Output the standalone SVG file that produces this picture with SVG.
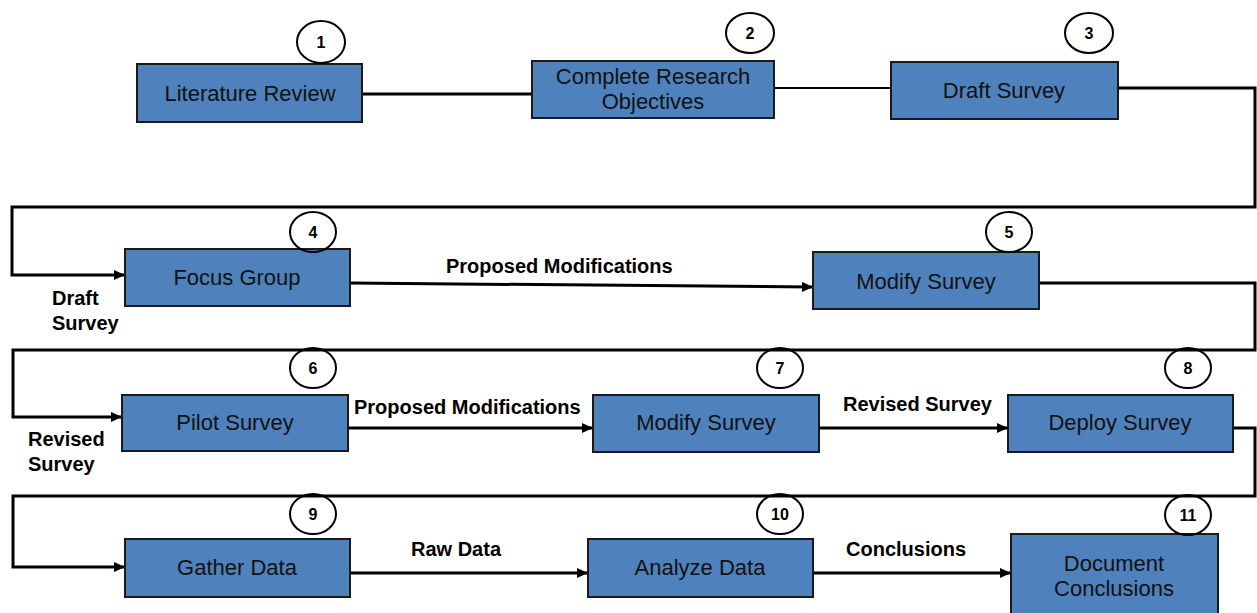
<svg xmlns="http://www.w3.org/2000/svg" width="1257" height="613" viewBox="0 0 1257 613">
<style>
.box{fill:#4F81BD;stroke:#1a1a1a;stroke-width:2}
.bt{font-family:"Liberation Sans",Arial,sans-serif;font-size:22px;fill:#111;text-anchor:middle}
.num{fill:none;stroke:#000;stroke-width:2}
.nt{font-family:"Liberation Sans",Arial,sans-serif;font-size:16px;font-weight:bold;fill:#000;text-anchor:middle}
.ln{fill:none;stroke:#000;stroke-width:3}
.lb{font-family:"Liberation Sans",Arial,sans-serif;font-size:20px;font-weight:bold;fill:#000}
</style>
<defs>
<marker id="ah" markerUnits="userSpaceOnUse" markerWidth="11" markerHeight="10" refX="10" refY="5" orient="auto">
<path d="M0,0 L11,5 L0,10 z" fill="#000"/>
</marker>
</defs>
<rect width="1257" height="613" fill="#fff"/>
<g id="connectors">
<path class="ln" d="M362,94 H532"/>
<path class="ln" d="M774,88 H891" style="stroke-width:2"/>
<path class="ln" d="M1118,88 H1255 V207 H12 V275 H124" marker-end="url(#ah)"/>
<path class="ln" d="M350,283 L812,287" marker-end="url(#ah)"/>
<path class="ln" d="M1039,283 H1255 V350 H13 V417 H121" marker-end="url(#ah)"/>
<path class="ln" d="M348,428 H592" marker-end="url(#ah)"/>
<path class="ln" d="M819,428 H1007" marker-end="url(#ah)"/>
<path class="ln" d="M1233,428 H1255 V496 H13 V567 H124" marker-end="url(#ah)"/>
<path class="ln" d="M350,573 H587" marker-end="url(#ah)"/>
<path class="ln" d="M813,573 H1010" marker-end="url(#ah)"/>
<text class="lb" x="52" y="305">Draft</text>
<text class="lb" x="52" y="330">Survey</text>
<text class="lb" x="446" y="273">Proposed Modifications</text>
<text class="lb" x="28" y="446">Revised</text>
<text class="lb" x="28" y="471">Survey</text>
<text class="lb" x="354" y="414">Proposed Modifications</text>
<text class="lb" x="843" y="411">Revised Survey</text>
<text class="lb" x="411" y="556">Raw Data</text>
<text class="lb" x="846" y="556">Conclusions</text>
</g>
<g id="n1">
<rect class="box" x="137" y="64" width="225" height="58"/>
<text class="bt" x="250" y="101">Literature Review</text>
<ellipse class="num" cx="321" cy="42" rx="24" ry="21"/>
<text class="nt" x="321" y="48">1</text>
</g>
<g id="n2">
<rect class="box" x="532" y="61" width="242" height="57"/>
<text class="bt" x="653" y="84">Complete Research</text>
<text class="bt" x="653" y="109">Objectives</text>
<ellipse class="num" cx="750" cy="33" rx="24" ry="20"/>
<text class="nt" x="750" y="39">2</text>
</g>
<g id="n3">
<rect class="box" x="891" y="62" width="227" height="57"/>
<text class="bt" x="1004" y="98">Draft Survey</text>
<ellipse class="num" cx="1089" cy="33" rx="24" ry="20"/>
<text class="nt" x="1089" y="39">3</text>
</g>
<g id="n4">
<rect class="box" x="125" y="249" width="225" height="57"/>
<text class="bt" x="237" y="285">Focus Group</text>
<ellipse class="num" cx="313" cy="232" rx="23" ry="20"/>
<text class="nt" x="313" y="238">4</text>
</g>
<g id="n5">
<rect class="box" x="813" y="252" width="226" height="57"/>
<text class="bt" x="926" y="289">Modify Survey</text>
<ellipse class="num" cx="1009" cy="232" rx="23" ry="20"/>
<text class="nt" x="1009" y="238">5</text>
</g>
<g id="n6">
<rect class="box" x="122" y="395" width="226" height="56"/>
<text class="bt" x="235" y="430">Pilot Survey</text>
<ellipse class="num" cx="313" cy="368" rx="23" ry="20"/>
<text class="nt" x="313" y="374">6</text>
</g>
<g id="n7">
<rect class="box" x="593" y="395" width="226" height="57"/>
<text class="bt" x="706" y="430">Modify Survey</text>
<ellipse class="num" cx="780" cy="368" rx="23" ry="20"/>
<text class="nt" x="780" y="374">7</text>
</g>
<g id="n8">
<rect class="box" x="1008" y="395" width="225" height="57"/>
<text class="bt" x="1120" y="430">Deploy Survey</text>
<ellipse class="num" cx="1188" cy="368" rx="23" ry="20"/>
<text class="nt" x="1188" y="374">8</text>
</g>
<g id="n9">
<rect class="box" x="125" y="539" width="225" height="58"/>
<text class="bt" x="237" y="575">Gather Data</text>
<ellipse class="num" cx="313" cy="514" rx="23" ry="20"/>
<text class="nt" x="313" y="520">9</text>
</g>
<g id="n10">
<rect class="box" x="588" y="539" width="225" height="58"/>
<text class="bt" x="700" y="575">Analyze Data</text>
<ellipse class="num" cx="780" cy="514" rx="23" ry="20"/>
<text class="nt" x="780" y="520">10</text>
</g>
<g id="n11">
<rect class="box" x="1011" y="534" width="207" height="90"/>
<text class="bt" x="1114" y="571">Document</text>
<text class="bt" x="1114" y="596">Conclusions</text>
<ellipse class="num" cx="1188" cy="515" rx="23" ry="20"/>
<text class="nt" x="1188" y="521">11</text>
</g>
</svg>
